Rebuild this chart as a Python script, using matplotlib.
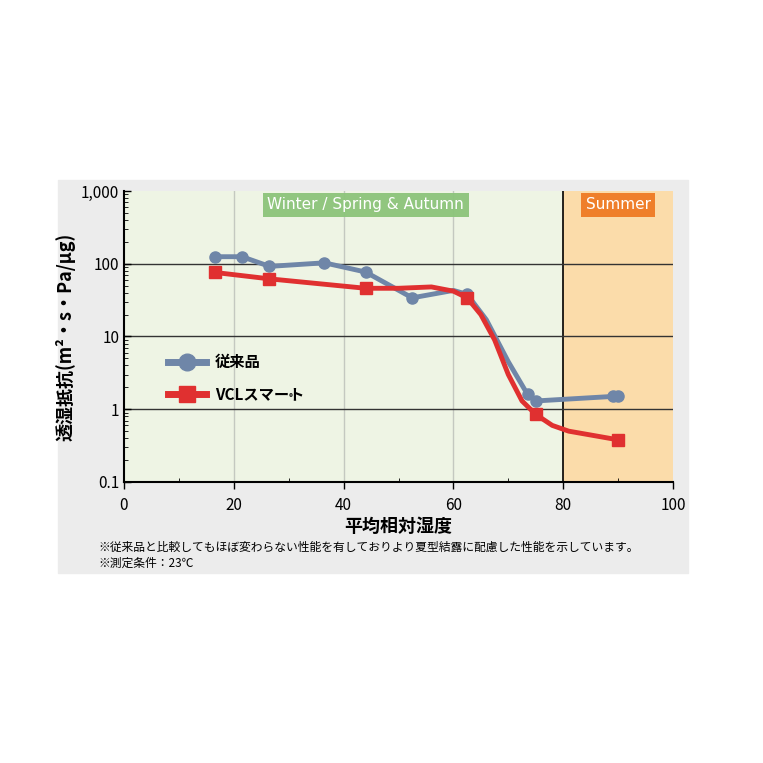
import matplotlib.pyplot as plt
import matplotlib.patches as mpatches
from matplotlib.ticker import FixedLocator, NullFormatter

plt.rcParams['font.family'] = ['Noto Sans CJK JP', 'DejaVu Sans']

# conventional product (line path and marker points)
old_x = [16.5, 21.5, 26.5, 36.5, 44, 52.5, 60, 62.5, 66, 70, 73.5, 75, 89, 90]
old_y = [125, 125, 92, 103, 77, 34, 43, 38, 17, 4.5, 1.6, 1.3, 1.5, 1.5]
old_mx = [16.5, 21.5, 26.5, 36.5, 44, 52.5, 62.5, 73.5, 75, 89, 90]
old_my = [125, 125, 92, 103, 77, 34, 38, 1.6, 1.3, 1.5, 1.5]

# VCL smart
vcl_x = [16.5, 26.5, 44, 50, 56, 60, 62.5, 65, 67.5, 70, 72.5, 75, 78, 81, 90]
vcl_y = [76, 62, 46, 46, 48, 42, 34, 20, 9, 3, 1.3, 0.85, 0.6, 0.5, 0.38]
vcl_mx = [16.5, 26.5, 44, 62.5, 75, 90]
vcl_my = [76, 62, 46, 34, 0.85, 0.38]

fig = plt.figure(figsize=(7.63, 7.63), dpi=100)
fig.patches.append(mpatches.Rectangle((58/763, 1-573/763), 630/763, 393/763,
                                      transform=fig.transFigure, color='#ececec', zorder=-10))
ax = fig.add_axes([124/763, 1-482/763, 549/763, 291/763])
ax.set_facecolor('#eef4e4')
ax.set_xlim(0, 100)
ax.set_yscale('log')
ax.set_ylim(0.1, 1000)

ax.axvspan(80, 100, color='#fbdcaa', zorder=0)
ax.axvline(80, color='black', lw=1.2, zorder=1)
for v in [20, 40, 60]:
    ax.axvline(v, color='#c4c8c0', lw=1, zorder=1)
for h in [1, 10, 100]:
    ax.axhline(h, color='#333333', lw=1, zorder=1)

ax.plot(old_x, old_y, color='#6f86a8', lw=3.5, zorder=3, solid_capstyle='round')
ax.plot(old_mx, old_my, 'o', color='#6f86a8', ms=8, zorder=3)
ax.plot(vcl_x, vcl_y, color='#e03030', lw=3.5, zorder=4)
ax.plot(vcl_mx, vcl_my, 's', color='#e03030', ms=8, zorder=4)

# season banners
ax.text(44, 650, 'Winter / Spring & Autumn', ha='center', va='center', color='white', fontsize=11,
        family='DejaVu Sans', bbox=dict(boxstyle='square,pad=0.3', fc='#8cc47a', ec='none', alpha=0.95), zorder=5)
ax.text(90, 650, 'Summer', ha='center', va='center', color='white', fontsize=11,
        family='DejaVu Sans', bbox=dict(boxstyle='square,pad=0.3', fc='#ef7f2a', ec='none'), zorder=5)

# legend
ax.plot([8, 15], [4.5, 4.5], color='#6f86a8', lw=5, zorder=5)
ax.plot([11.5], [4.5], 'o', color='#6f86a8', ms=12, zorder=5)
ax.text(16.5, 4.5, '従来品', va='center', fontsize=11, fontweight='bold', zorder=5)
ax.plot([8, 15], [1.6, 1.6], color='#e03030', lw=5, zorder=5)
ax.plot([11.5], [1.6], 's', color='#e03030', ms=11, zorder=5)
ax.text(16.5, 1.6, 'VCLスマート', va='center', fontsize=11, fontweight='bold', zorder=5)
ax.text(30, 1.45, '®', va='center', fontsize=6, zorder=5)

ax.set_xticks([0, 20, 40, 60, 80, 100])
ax.xaxis.set_minor_locator(FixedLocator(range(10, 100, 20)))
ax.set_yticks([0.1, 1, 10, 100, 1000])
ax.set_yticklabels(['0.1', '1', '10', '100', '1,000'])
ax.yaxis.set_minor_formatter(NullFormatter())
ax.tick_params(direction='in', labelsize=11, length=5, width=1)
ax.tick_params(which='minor', direction='in', length=3)
ax.tick_params(axis='x', direction='out', pad=6)
for s in ['top', 'right']:
    ax.spines[s].set_visible(False)
ax.spines['left'].set_linewidth(1.5)
ax.spines['bottom'].set_linewidth(1.5)

ax.set_xlabel('平均相対湿度', fontsize=13, fontweight='bold', labelpad=2)
ax.set_ylabel('透湿抵抗(m²・s・Pa/μg)', fontsize=13, fontweight='bold', labelpad=4)

fig.text(98/763, 1-547/763, '※従来品と比較してもほぼ変わらない性能を有しておりより夏型結露に配慮した性能を示しています。',
         fontsize=8.5, va='center')
fig.text(98/763, 1-563/763, '※測定条件：23℃', fontsize=8.5, va='center')

fig.savefig('out.png', dpi=100)
